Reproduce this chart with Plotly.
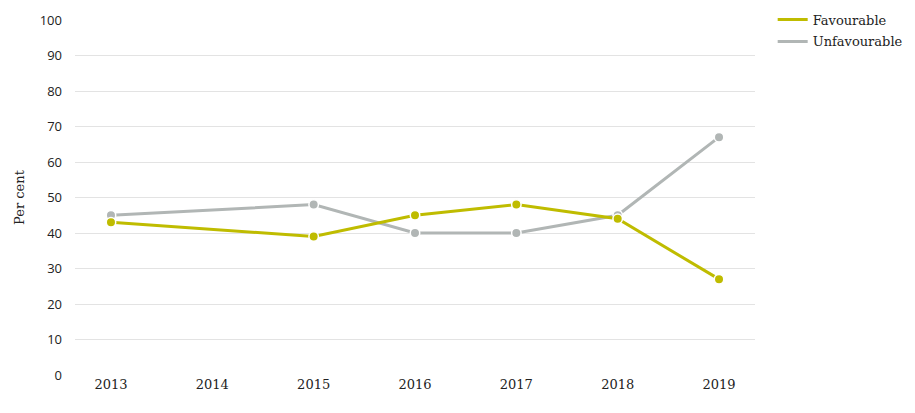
import plotly.graph_objects as go

years = [2013, 2015, 2016, 2017, 2018, 2019]
favourable = [43, 39, 45, 48, 44, 27]
unfavourable = [45, 48, 40, 40, 45, 67]
tick_years = [2013, 2014, 2015, 2016, 2017, 2018, 2019]
y_ticks = [0, 10, 20, 30, 40, 50, 60, 70, 80, 90, 100]

YELLOW = "#bfbc00"
GRAY = "#b1b6b5"
FONT = "DejaVu Serif"
SANS = "Open Sans"

fig = go.Figure()
for name, vals, col in [("Unfavourable", unfavourable, GRAY), ("Favourable", favourable, YELLOW)]:
    fig.add_trace(go.Scatter(x=years, y=vals, mode="lines+markers", name=name,
                             line=dict(color=col, width=3),
                             marker=dict(size=9.5, color=col, line=dict(color="white", width=1.5)),
                             showlegend=False))
for name, col in [("Favourable", YELLOW), ("Unfavourable", GRAY)]:
    fig.add_trace(go.Scatter(x=[None], y=[None], mode="lines", name=name, legendgroup=name,
                             line=dict(color=col, width=3), showlegend=True))

fig.update_layout(
    width=915, height=413,
    margin=dict(l=75, r=160, t=20, b=38, autoexpand=False),
    paper_bgcolor="white", plot_bgcolor="white",
    font=dict(family=FONT, size=13, color="#222"),
    showlegend=True,
    legend=dict(x=1.026, y=1.0435, xanchor="left", yanchor="top",
                font=dict(family=FONT, size=13, color="#222"),
                traceorder="grouped", itemwidth=30, tracegroupgap=2),
    xaxis=dict(range=[2012.645, 2019.355], tickmode="array", tickvals=tick_years,
               ticktext=[str(y) for y in tick_years], showgrid=False, zeroline=False,
               showline=False, ticks="", tickfont=dict(family=FONT, size=13)),
    yaxis=dict(range=[0, 100], tickmode="array", tickvals=y_ticks, showgrid=True,
               gridcolor="#e3e3e3", gridwidth=1, zeroline=False, ticks="",
               ticklabelstandoff=12,
               title=dict(text="Per cent", font=dict(family=FONT, size=13), standoff=12),
               tickfont=dict(family=SANS, size=13)),
)

fig.write_html("out.html", config={"displayModeBar": False},
               post_script="document.body.style.margin='0';document.body.style.overflow='hidden';")
